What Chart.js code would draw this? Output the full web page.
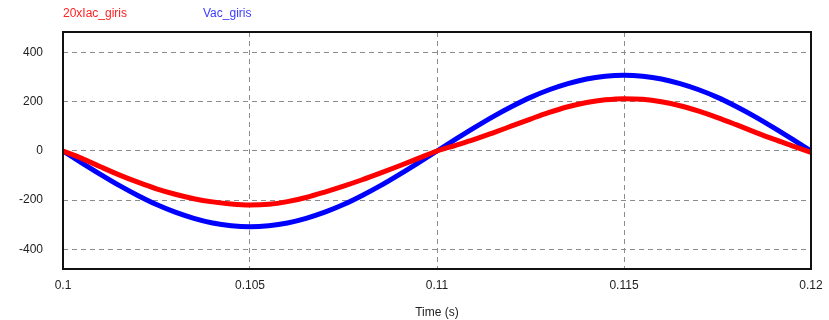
<!DOCTYPE html>
<html>
<head>
<meta charset="utf-8">
<script src="https://cdn.jsdelivr.net/npm/chart.js@4.4.0/dist/chart.umd.min.js"></script>
<style>
  html, body { margin: 0; padding: 0; background: #fff; }
  #wrap { position: relative; width: 829px; height: 320px; }
  .lg { position: absolute; top: 6px; font: 12px "Liberation Sans", Arial, sans-serif; }
</style>
</head>
<body>
<div id="wrap">
  <canvas id="c" width="829" height="320"></canvas>
  <span class="lg" style="left:63px;color:#ff2020">20xIac_giris</span>
  <span class="lg" style="left:203px;color:#3c3cff">Vac_giris</span>
</div>
<script>
// time samples (s), every 0.5 ms
const times = [
  0.1000, 0.1005, 0.1010, 0.1015, 0.1020, 0.1025, 0.1030, 0.1035, 0.1040, 0.1045,
  0.1050, 0.1055, 0.1060, 0.1065, 0.1070, 0.1075, 0.1080, 0.1085, 0.1090, 0.1095,
  0.1100, 0.1105, 0.1110, 0.1115, 0.1120, 0.1125, 0.1130, 0.1135, 0.1140, 0.1145,
  0.1150, 0.1155, 0.1160, 0.1165, 0.1170, 0.1175, 0.1180, 0.1185, 0.1190, 0.1195,
  0.1200
];

// 20 x input current
const iacGiris = [
  0, -30, -64, -97, -127, -154, -176, -194, -207, -216,
  -220, -217, -206, -189, -167, -143, -117, -89, -60, -30,
  0, 23, 47, 74, 102, 130, 157, 180, 197, 208,
  213, 210, 200, 184, 162, 136, 107, 77, 48, 21,
  -6
];

// input voltage
const vacGiris = [
  0, -48, -95, -140, -181, -218, -249, -274, -293, -304,
  -308, -304, -293, -274, -249, -218, -181, -140, -95, -48,
  0, 48, 95, 140, 181, 218, 249, 274, 293, 304,
  308, 304, 293, 274, 249, 218, 181, 140, 95, 48,
  0
];

const xTicks = [0.1, 0.105, 0.11, 0.115, 0.12];
const yTicks = [-400, -200, 0, 200, 400];

const toPoints = arr => arr.map((v, i) => ({ x: times[i], y: v }));

// black frame around the plot area
const frame = {
  id: 'frame',
  afterDraw(chart) {
    const a = chart.chartArea, ctx = chart.ctx;
    ctx.save();
    ctx.strokeStyle = '#111';
    ctx.lineWidth = 2;
    ctx.setLineDash([]);
    ctx.strokeRect(a.left, a.top, a.right - a.left, a.bottom - a.top);
    ctx.restore();
  }
};

const font = { family: '"Liberation Sans", Arial, sans-serif', size: 12 };

new Chart(document.getElementById('c').getContext('2d'), {
  type: 'line',
  data: {
    datasets: [
      { label: '20xIac_giris', data: toPoints(iacGiris), borderColor: '#ff0000', borderWidth: 5,
        pointRadius: 0, cubicInterpolationMode: 'monotone' },
      { label: 'Vac_giris', data: toPoints(vacGiris), borderColor: '#0000ff', borderWidth: 5,
        pointRadius: 0, cubicInterpolationMode: 'monotone' }
    ]
  },
  options: {
    responsive: false,
    animation: false,
    layout: { padding: { top: 32, right: 18, left: 0, bottom: 0 } },
    plugins: { legend: { display: false }, tooltip: { enabled: false } },
    scales: {
      x: {
        type: 'linear',
        min: 0.1,
        max: 0.12,
        afterBuildTicks: s => { s.ticks = xTicks.map(v => ({ value: v })); },
        afterFit: s => { s.height = 51; s.paddingLeft = 0; s.paddingRight = 0; },
        ticks: { color: '#222', font: font, padding: 9, maxRotation: 0,
                 callback: v => String(+v.toFixed(3)) },
        grid: { color: '#8c8c8c', drawTicks: false, lineWidth: 1 },
        border: { display: false, dash: [5, 4] },
        title: { display: true, text: 'Time (s)', color: '#222', font: font, padding: { top: 5, bottom: 0 } }
      },
      y: {
        min: -480,
        max: 484,
        afterBuildTicks: s => { s.ticks = yTicks.map(v => ({ value: v })); },
        afterFit: s => { s.width = 63; },
        ticks: { color: '#222', font: font, padding: 20 },
        grid: { color: '#8c8c8c', drawTicks: false, lineWidth: 1 },
        border: { display: false, dash: [5, 4] }
      }
    }
  },
  plugins: [frame]
});
</script>
</body>
</html>
